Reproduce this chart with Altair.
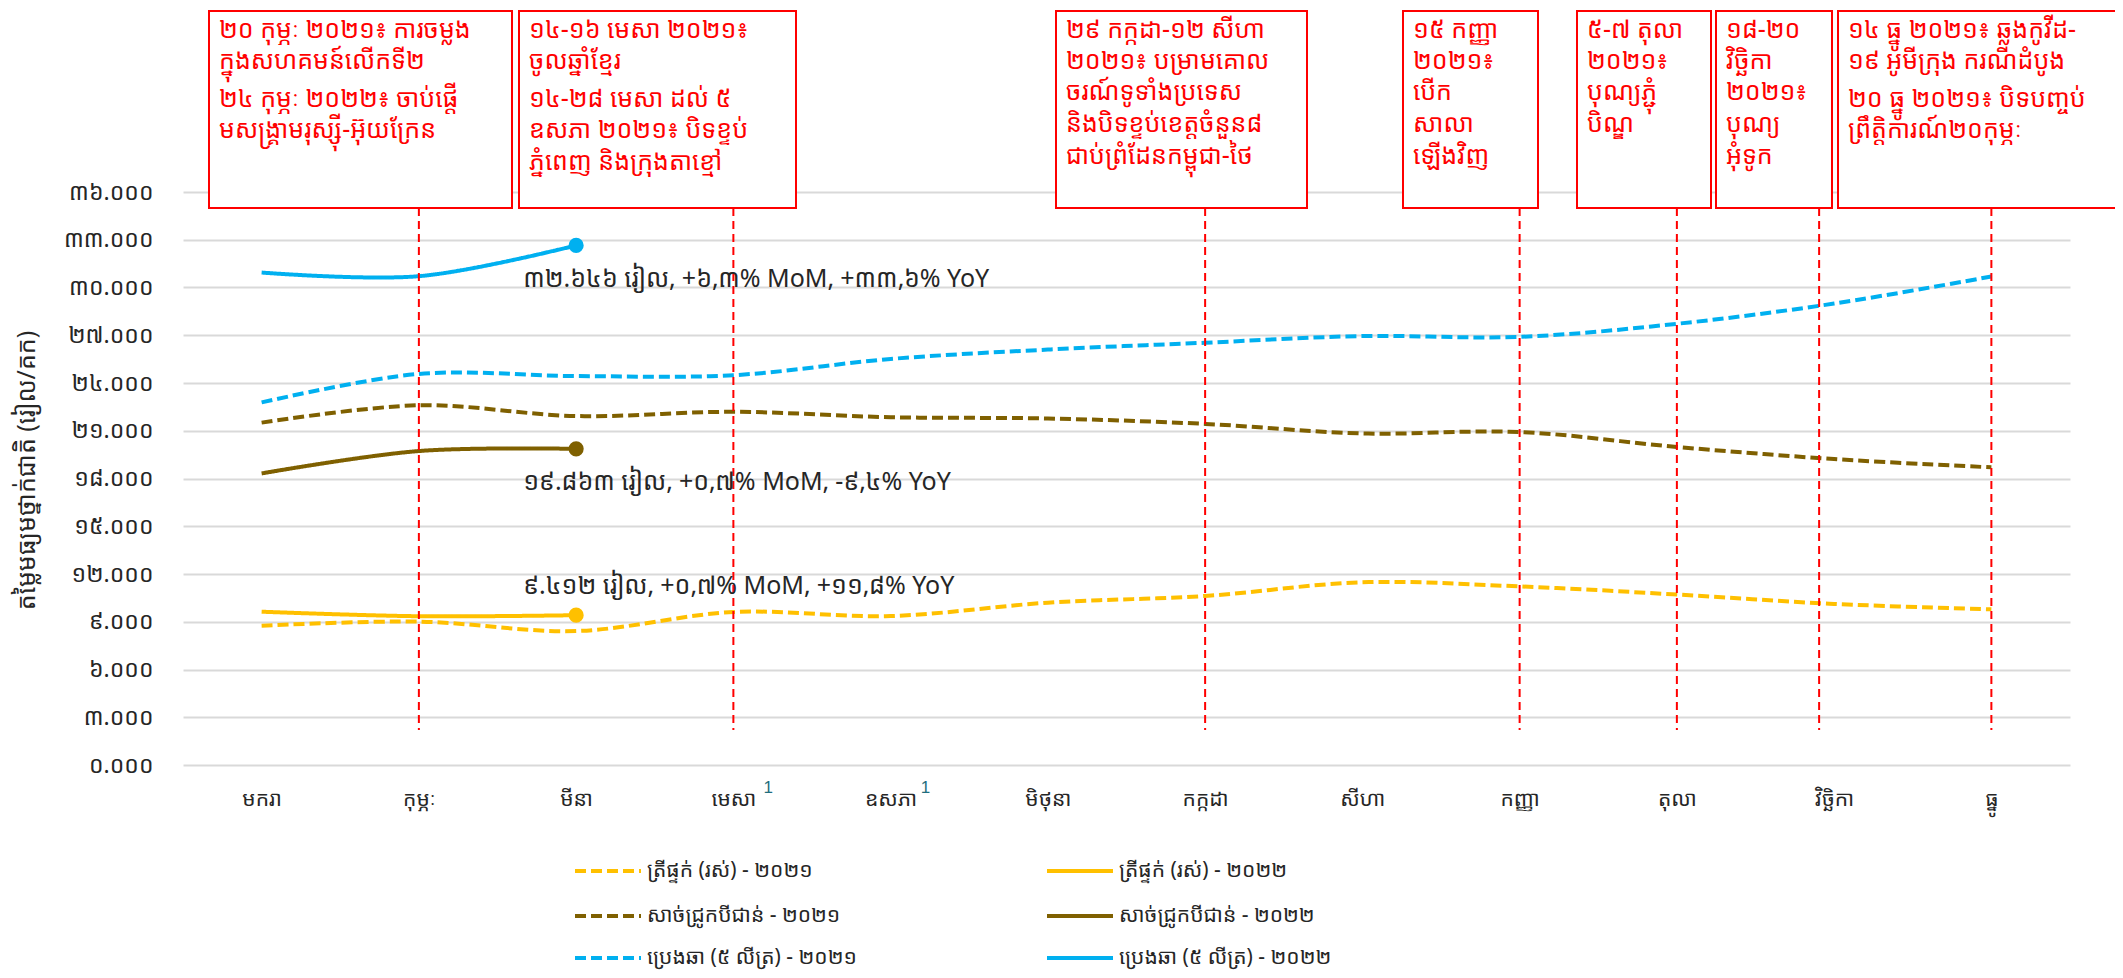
import altair as alt
import pandas as pd

# ---------------- data ----------------
months = ["មករា", "កុម្ភៈ", "មីនា", "មេសា", "ឧសភា", "មិថុនា",
          "កក្កដា", "សីហា", "កញ្ញា", "តុលា", "វិច្ឆិកា", "ធ្នូ"]
month_sup = ["", "", "", "1", "1", "", "", "", "", "", "", ""]

fish_2021 = [8750, 9010, 8418, 9610, 9360, 10200, 10620, 11480, 11220, 10710, 10120, 9780]
fish_2022 = [9630, 9347, 9412]
pork_2021 = [21510, 22600, 21924, 22190, 21850, 21770, 21430, 20830, 20920, 19980, 19220, 18700]
pork_2022 = [18320, 19725, 19863]
oil_2021 = [22780, 24570, 24436, 24490, 25510, 26100, 26530, 26950, 26900, 27720, 28990, 30690]
oil_2022 = [30940, 30711, 32646]

series_names = ["ត្រីផ្ទក់ (រស់) - ២០២១", "ត្រីផ្ទក់ (រស់) - ២០២២",
                "សាច់ជ្រូកបីជាន់ - ២០២១", "សាច់ជ្រូកបីជាន់ - ២០២២",
                "ប្រេងឆា (៥ លីត្រ) - ២០២១", "ប្រេងឆា (៥ លីត្រ) - ២០២២"]
series_values = [fish_2021, fish_2022, pork_2021, pork_2022, oil_2021, oil_2022]

end_labels = ["៩.៤១២ រៀល, +០,៧% MoM, +១១,៨% YoY",
              "១៩.៨៦៣ រៀល, +០,៧% MoM, -៩,៤% YoY",
              "៣២.៦៤៦ រៀល, +៦,៣% MoM, +៣៣,៦% YoY"]

y_ticks = list(range(0, 36001, 3000))
y_tick_labels = ["០.០០០", "៣.០០០", "៦.០០០", "៩.០០០", "១២.០០០", "១៥.០០០", "១៨.០០០",
                 "២១.០០០", "២៤.០០០", "២៧.០០០", "៣០.០០០", "៣៣.០០០", "៣៦.០០០"]
y_title = "តម្លៃមធ្យមថ្នាក់ជាតិ (រៀល/គក)"

event_months = ["កុម្ភៈ", "មេសា", "កក្កដា", "កញ្ញា", "តុលា", "ធ្នូ"]
event_months_shifted = ["វិច្ឆិកា"]

box_texts = [
    ["២០ កុម្ភៈ ២០២១៖ ការចម្លង", "ក្នុងសហគមន៍លើកទី២", "",
     "២៤ កុម្ភៈ ២០២២៖ ចាប់ផ្តើ", "មសង្គ្រាមរុស្ស៊ី-អ៊ុយក្រែន"],
    ["១៤-១៦ មេសា ២០២១៖", "ចូលឆ្នាំខ្មែរ", "",
     "១៤-២៨ មេសា ដល់ ៥", "ឧសភា ២០២១៖ បិទខ្ទប់", "ភ្នំពេញ និងក្រុងតាខ្មៅ"],
    ["២៩ កក្កដា-១២ សីហា", "២០២១៖ បម្រាមគោល", "ចរណ៍ទូទាំងប្រទេស",
     "និងបិទខ្ទប់ខេត្តចំនួន៨", "ជាប់ព្រំដែនកម្ពុជា-ថៃ"],
    ["១៥ កញ្ញា", "២០២១៖", "បើក", "សាលា", "ឡើងវិញ"],
    ["៥-៧ តុលា", "២០២១៖", "បុណ្យភ្ជុំ", "បិណ្ឌ"],
    ["១៨-២០", "វិច្ឆិកា", "២០២១៖", "បុណ្យ", "អុំទូក"],
    ["១៤ ធ្នូ ២០២១៖ ឆ្លងកូវីដ-", "១៩ អូមីក្រុង ករណីដំបូង", "",
     "២០ ធ្នូ ២០២១៖ បិទបញ្ចប់", "ព្រឹត្តិការណ៍២០កុម្ភៈ"],
]

# ---------------- styles / layout ----------------
FONT = "Khmer OS, Noto Sans Khmer, Khmer OS System, Noto Sans, sans-serif"
series_colors = ["#FFC000", "#FFC000", "#7F6000", "#7F6000", "#00B0F0", "#00B0F0"]
series_dashes = [[11, 5], [1, 0], [11, 5], [1, 0], [11, 5], [1, 0]]
RED = "#FF0000"

W, H = 1887, 573
PAD_L, PAD_T = 175, 184
TOP0 = PAD_T + 8  # page y of plot top

box_left_page = [209, 519, 1056, 1403, 1577, 1716, 1838]
box_right_page = [512, 796, 1307, 1538, 1711, 1832, 2140]
box_top_page, box_bot_page = 11, 208
line_y_page = [30, 61, 92, 124, 156]
para_y_page = [30, 61, None, 99, 130, 162]

# ---------------- tables ----------------
rows = []
for name, vals in zip(series_names, series_values):
    for m, v in zip(months, vals):
        rows.append({"month": m, "series": name, "value": v})
df = pd.DataFrame(rows)

last_rows = []
for name, vals, lab in zip(series_names[1::2], series_values[1::2], end_labels):
    last_rows.append({"month": months[len(vals) - 1], "series": name,
                      "value": vals[-1], "label": lab})
last_df = pd.DataFrame(last_rows)

box_df = pd.DataFrame({
    "x0": [l - 8 - PAD_L for l in box_left_page],
    "x1": [r - 8 - PAD_L for r in box_right_page],
    "y0": [box_top_page - TOP0] * len(box_left_page),
    "y1": [box_bot_page - TOP0] * len(box_left_page),
})

txt_rows = []
for i, lines in enumerate(box_texts):
    has_gap = "" in lines
    ys = para_y_page if has_gap else line_y_page
    for j, t in enumerate(lines):
        if t == "":
            continue
        txt_rows.append({"tx": box_left_page[i] + 10 - 8 - PAD_L,
                         "ty": ys[j] - TOP0, "text": t})
txt_df = pd.DataFrame(txt_rows)

ev_df = pd.DataFrame({"month": event_months})
ev2_df = pd.DataFrame({"month": event_months_shifted})
sup_df = pd.DataFrame({"month": [m for m, s in zip(months, month_sup) if s],
                       "sup": [s for s in month_sup if s]})

leg_rows = []
for i, name in enumerate(series_names):
    col, row = i % 2, i // 2
    sx0 = [575, 1047][col] - 8 - PAD_L
    leg_rows.append({"series": name, "sx0": sx0, "sx1": sx0 + 66,
                     "tx": sx0 + 72, "ly": [871, 916, 958][row] - TOP0})
leg_df = pd.DataFrame(leg_rows)

# ---------------- encodings ----------------
x_enc = alt.X("month:N", sort=months, scale=alt.Scale(type="point", padding=0.5),
              axis=alt.Axis(title=None, labelFont=FONT, labelFontSize=21, labelColor="#262626",
                            labelAngle=0, labelPadding=34, labelBaseline="middle",
                            domain=False, ticks=False, tickSize=0, grid=False))
y_scale = alt.Scale(domain=[0, 36000], nice=False, zero=True)
y_enc = alt.Y("value:Q", scale=y_scale,
              axis=alt.Axis(values=y_ticks,
                            labelExpr="%s[round(datum.value/3000)]" % str(y_tick_labels),
                            grid=True, gridColor="#D9D9D9", gridWidth=2,
                            domain=False, ticks=False, tickSize=0, labelPadding=30,
                            labelFont=FONT, labelFontSize=23, labelColor="#262626",
                            title=y_title, titleFont=FONT, titleFontSize=25,
                            titleFontWeight="normal", titleColor="#262626",
                            titleX=-157, titleY=278, titleAngle=270,
                            titleAlign="center", titleBaseline="middle"))
color_enc = alt.Color("series:N", scale=alt.Scale(domain=series_names, range=series_colors), legend=None)
dash_enc = alt.StrokeDash("series:N", scale=alt.Scale(domain=series_names, range=series_dashes), legend=None)

lines = alt.Chart(df).mark_line(interpolate="catmull-rom", strokeWidth=4).encode(
    x=x_enc, y=y_enc, color=color_enc, strokeDash=dash_enc, detail="series:N")

dots = alt.Chart(last_df).mark_circle(size=230, opacity=1).encode(
    x=alt.X("month:N", sort=months), y="value:Q", color=color_enc)

lab_layers = []
for k, dy in enumerate([-29, 33, 34]):
    lab_layers.append(
        alt.Chart(last_df.iloc[[k]]).mark_text(align="left", baseline="middle", dx=-53, dy=dy,
                                              font=FONT, fontSize=25, color="#262626").encode(
            x=alt.X("month:N", sort=months), y="value:Q", text="label:N"))

rules = alt.Chart(ev_df).mark_rule(color=RED, strokeWidth=2, strokeDash=[8, 5]).encode(
    x=alt.X("month:N", sort=months), y=alt.value(box_bot_page - TOP0), y2=alt.value(730 - TOP0))
rules2 = alt.Chart(ev2_df).mark_rule(color=RED, strokeWidth=2, strokeDash=[8, 5], xOffset=-15).encode(
    x=alt.X("month:N", sort=months), y=alt.value(box_bot_page - TOP0), y2=alt.value(730 - TOP0))

boxes = alt.Chart(box_df).mark_rect(fill="white", stroke=RED, strokeWidth=2).encode(
    x=alt.X("x0:Q", scale=None, axis=None), x2="x1:Q",
    y=alt.Y("y0:Q", scale=None, axis=None), y2="y1:Q")

box_text = alt.Chart(txt_df).mark_text(align="left", baseline="middle", font=FONT,
                                        fontSize=25, color=RED).encode(
    x=alt.X("tx:Q", scale=None, axis=None), y=alt.Y("ty:Q", scale=None, axis=None), text="text:N")

sups = alt.Chart(sup_df).mark_text(align="left", baseline="middle", dx=30, fontSize=17,
                                   font="Liberation Sans", color="#1F6E7E").encode(
    x=alt.X("month:N", sort=months), y=alt.value(788 - TOP0), text="sup:N")

leg_sym = alt.Chart(leg_df).mark_rule(strokeWidth=4).encode(
    x=alt.X("sx0:Q", scale=None, axis=None), x2="sx1:Q",
    y=alt.Y("ly:Q", scale=None, axis=None), color=color_enc, strokeDash=dash_enc)
leg_txt = alt.Chart(leg_df).mark_text(align="left", baseline="middle", font=FONT,
                                      fontSize=21, color="#262626").encode(
    x=alt.X("tx:Q", scale=None, axis=None), y=alt.Y("ly:Q", scale=None, axis=None), text="series:N")

chart = alt.layer(lines, rules, rules2, dots, *lab_layers, boxes, box_text, sups, leg_sym, leg_txt).properties(
    width=W, height=H,
    padding={"left": PAD_L, "top": PAD_T, "right": 45, "bottom": 211},
    autosize=alt.AutoSizeParams(type="none"),
    background="white",
).configure_view(stroke=None)

chart.save("out.html", embed_options={"renderer": "svg", "actions": False})
